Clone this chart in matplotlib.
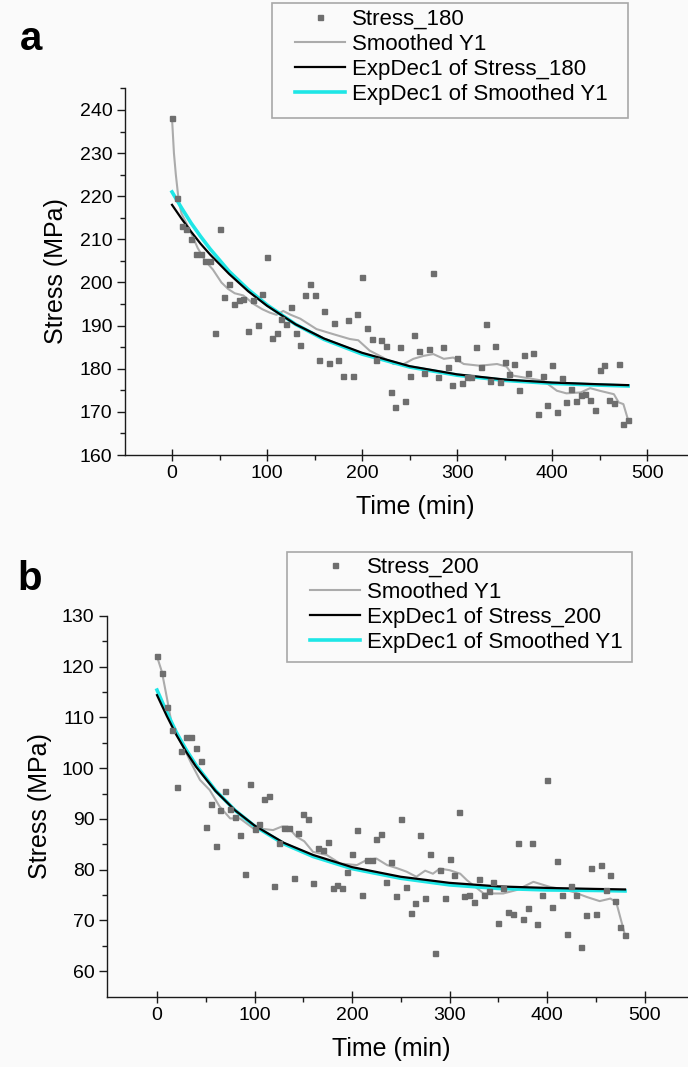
import numpy as np
import matplotlib.pyplot as plt
from matplotlib.patches import Rectangle
from matplotlib.lines import Line2D

plt.rcParams['font.family'] = ['Liberation Sans', 'DejaVu Sans']

# =========================
# DATA - panel a (180)
# =========================
time_a = [0, 5, 10, 15, 20, 25, 30, 35, 40, 45, 50, 55, 60, 65, 70, 75, 80, 85, 90, 95,
          100, 105, 110, 115, 120, 125, 130, 135, 140, 145, 150, 155, 160, 165, 170, 175,
          180, 185, 190, 195, 200, 205, 210, 215, 220, 225, 230, 235, 240, 245, 250, 255,
          260, 265, 270, 275, 280, 285, 290, 295, 300, 305, 310, 315, 320, 325, 330, 335,
          340, 345, 350, 355, 360, 365, 370, 375, 380, 385, 390, 395, 400, 405, 410, 415,
          420, 425, 430, 435, 440, 445, 450, 455, 460, 465, 470, 475, 480]
stress_180 = [238.1, 219.5, 213.0, 212.5, 210.0, 206.7, 206.7, 204.9, 204.9, 188.4, 212.5,
              196.7, 199.7, 194.9, 196.0, 196.2, 188.8, 196.0, 190.2, 197.4, 205.9, 187.1,
              188.4, 191.6, 190.4, 194.3, 188.4, 185.5, 197.2, 199.7, 197.2, 182.1, 193.3,
              181.3, 190.5, 182.0, 178.3, 191.3, 178.3, 192.7, 201.2, 189.4, 187.0, 182.0,
              186.7, 185.3, 174.5, 171.2, 185.1, 172.6, 178.3, 187.8, 184.2, 178.9, 184.5,
              202.2, 178.1, 185.0, 180.3, 176.3, 182.6, 176.8, 178.0, 178.0, 185.0, 180.5,
              190.3, 177.2, 185.2, 177.0, 181.5, 178.8, 181.0, 175.0, 183.3, 179.0, 183.6,
              169.5, 178.3, 171.6, 180.9, 169.9, 177.8, 172.4, 175.3, 172.6, 173.9, 174.1,
              172.8, 170.4, 179.8, 180.9, 172.8, 172.0, 181.2, 167.1, 168.1]

smooth_t_a = [0, 2, 4, 7, 10, 19, 27, 35, 43, 52, 59, 66, 75, 86, 95, 103, 110, 117, 125,
              135, 152, 170, 187, 196, 208, 222, 233, 244, 254, 265, 275, 286, 296, 307,
              324, 342, 352, 359, 375, 391, 405, 415, 430, 440, 450, 465, 470, 475, 480]
smooth_v_a = [238.0, 230.0, 225.0, 219.0, 216.0, 212.0, 208.0, 205.0, 203.0, 200.0, 198.5,
              197.5, 197.0, 195.0, 193.8, 193.0, 192.5, 193.4, 192.5, 191.6, 189.2, 188.0,
              186.9, 186.6, 184.2, 182.6, 181.1, 181.1, 182.3, 183.0, 183.4, 182.3, 182.6,
              181.1, 180.7, 181.1, 180.5, 178.4, 177.8, 177.2, 174.9, 174.3, 174.5, 175.5,
              174.9, 174.1, 172.2, 171.8, 168.1]

fit_t = [0, 10, 20, 30, 40, 60, 80, 100, 130, 160, 200, 250, 300, 350, 400, 450, 480]
fit_black_a = [218.0, 214.8, 211.8, 209.0, 206.5, 202.0, 198.0, 194.6, 190.3, 187.0, 183.7,
               180.6, 178.7, 177.5, 176.8, 176.4, 176.2]
fit_cyan_a = [221.0, 217.3, 213.8, 210.7, 207.8, 202.6, 198.4, 194.8, 190.3, 186.8, 183.4,
              180.4, 178.5, 177.3, 176.6, 176.2, 176.0]

# =========================
# DATA - panel b (200)
# =========================
time_b = time_a
stress_200 = [122.1, 118.8, 112.1, 107.5, 96.3, 103.4, 106.1, 106.2, 103.9, 101.5, 88.4,
              93.0, 84.7, 91.7, 95.5, 92.0, 90.4, 86.9, 79.2, 96.8, 88.1, 89.0, 94.0, 94.5,
              76.7, 85.2, 88.3, 88.3, 78.4, 87.3, 90.9, 89.9, 77.4, 84.2, 83.8, 85.5, 76.3,
              77.0, 76.3, 79.6, 83.1, 87.8, 75.1, 81.9, 81.9, 86.0, 87.0, 77.6, 81.5, 74.8,
              89.9, 76.5, 71.4, 73.5, 86.8, 74.5, 83.1, 63.5, 80.0, 74.4, 82.1, 78.9, 91.4,
              74.8, 75.0, 73.6, 78.1, 75.0, 75.8, 77.5, 69.4, 76.3, 71.7, 71.2, 85.2, 70.2,
              72.5, 85.2, 69.2, 75.0, 97.7, 72.7, 81.7, 75.0, 67.4, 76.8, 75.0, 64.8, 71.0,
              80.4, 71.2, 80.9, 76.0, 78.9, 73.8, 68.7, 67.1]

smooth_t_b = [0, 5, 10, 15, 27, 35, 44, 54, 64, 75, 85, 99, 110, 119, 128, 134, 143, 151,
              160, 174, 188, 205, 215, 225, 236, 246, 256, 266, 275, 283, 290, 300, 311,
              318, 335, 355, 369, 386, 403, 415, 427, 441, 454, 465, 471, 475, 480]
smooth_v_b = [122.0, 119.0, 114.0, 108.8, 104.2, 101.0, 97.7, 95.7, 92.5, 90.1, 90.1, 88.1,
              88.0, 87.8, 88.5, 88.5, 86.5, 85.6, 83.5, 82.9, 81.2, 80.9, 81.9, 82.2, 80.9,
              80.3, 79.6, 78.6, 79.8, 79.2, 80.2, 79.9, 79.2, 77.9, 75.3, 75.3, 76.0, 77.6,
              76.6, 76.2, 75.6, 74.6, 73.8, 74.3, 73.6, 70.7, 67.1]

fit_black_b = [114.4, 110.3, 106.5, 103.2, 100.3, 95.5, 91.7, 88.7, 85.3, 82.9, 80.5, 78.6,
               77.4, 76.7, 76.4, 76.2, 76.1]
fit_cyan_b = [115.4, 111.0, 107.0, 103.6, 100.6, 95.6, 91.7, 88.6, 85.1, 82.6, 80.2, 78.3,
              77.0, 76.3, 76.0, 75.9, 75.8]

# =========================
# STYLE
# =========================
bg = '#fafafa'
pt_color = '#6e6e6e'
smooth_color = '#ababab'
cyan = '#1ee6e6'

W, H = 688, 1067
fig = plt.figure(figsize=(W / 100, H / 100), dpi=100, facecolor=bg)


def px_box(left, top, right, bottom):
    # pixel box -> figure fraction
    return [left / W, 1 - bottom / H, (right - left) / W, (bottom - top) / H]


def draw_panel(box, t, pts, st, sv, fb, fc, xlim, ylim, yticks, yminor):
    ax = fig.add_axes(box, facecolor=bg)
    ax.plot(st, sv, color=smooth_color, lw=1.5, zorder=2)
    ax.plot(fit_t, fc, color=cyan, lw=2.6, zorder=3)
    ax.plot(fit_t, fb, color='black', lw=1.6, zorder=4)
    ax.plot(t, pts, ls='none', marker='s', ms=3.6, color=pt_color, zorder=5)

    ax.set_xlim(xlim)
    ax.set_ylim(ylim)
    ax.set_xticks([0, 100, 200, 300, 400, 500])
    ax.set_xticks(np.arange(50, 501, 100), minor=True)
    ax.set_yticks(yticks)
    ax.set_yticks(yminor, minor=True)

    for s in ['top', 'right']:
        ax.spines[s].set_visible(False)
    for s in ['left', 'bottom']:
        ax.spines[s].set_color('#1a1a1a')
        ax.spines[s].set_linewidth(1.0)
    ax.tick_params(which='major', direction='out', length=6, width=1,
                   labelsize=14, pad=3, color='#1a1a1a')
    ax.tick_params(axis='x', which='major', direction='inout', length=8)
    ax.tick_params(which='minor', direction='out', length=3.5, width=1, color='#1a1a1a')

    ax.set_xlabel('Time (min)', fontsize=18)
    ax.set_ylabel('Stress (MPa)', fontsize=18)
    ax.xaxis.label.set_va('center')
    ax.yaxis.label.set_va('center')
    return ax


# =========================
# PANEL A
# =========================
ax_a = draw_panel(px_box(125, 88, 688, 455), time_a, stress_180, smooth_t_a, smooth_v_a,
                  fit_black_a, fit_cyan_a, (-49.5, 543), (160, 245.1),
                  [160, 170, 180, 190, 200, 210, 220, 230, 240],
                  [165, 175, 185, 195, 205, 215, 225, 235, 245])
ax_a.xaxis.set_label_coords(0.515, -52 / 367)
ax_a.yaxis.set_label_coords((56 - 125) / 563, 0.5)

# =========================
# PANEL B
# =========================
ax_b = draw_panel(px_box(107, 616, 688, 997), time_b, stress_200, smooth_t_b, smooth_v_b,
                  fit_black_b, fit_cyan_b, (-51.3, 544.6), (54.9, 130),
                  [60, 70, 80, 90, 100, 110, 120, 130],
                  [65, 75, 85, 95, 105, 115, 125])
ax_b.xaxis.set_label_coords(0.49, -52 / 381)
ax_b.yaxis.set_label_coords((40 - 107) / 581, 0.5)

# panel letters
fig.text(20 / W, 1 - 50 / H, 'a', fontsize=29, fontweight='bold', va='baseline')
fig.text(17 / W, 1 - 590 / H, 'b', fontsize=29, fontweight='bold', va='baseline')


# =========================
# LEGENDS
# =========================
def legend_box(left, top, right, bottom, first_label, handle_x, row1_top):
    fig.patches.append(Rectangle((left / W, 1 - bottom / H), (right - left) / W,
                                 (bottom - top) / H, transform=fig.transFigure,
                                 facecolor=bg, edgecolor='#a8a8a8', lw=1.2, zorder=0))
    handles = [
        Line2D([], [], ls='none', marker='s', ms=3.6, color=pt_color),
        Line2D([], [], color=smooth_color, lw=1.5),
        Line2D([], [], color='black', lw=1.6),
        Line2D([], [], color=cyan, lw=2.6),
    ]
    labels = [first_label, 'Smoothed Y1', 'ExpDec1 of ' + first_label,
              'ExpDec1 of Smoothed Y1']
    fig.legend(handles, labels, loc='upper left',
               bbox_to_anchor=(handle_x / W, 1 - row1_top / H),
               bbox_transform=fig.transFigure, frameon=False, fontsize=16,
               borderpad=0, borderaxespad=0, handlelength=2.25,
               handletextpad=0.32, labelspacing=0.18)


legend_box(272, 3, 628, 118, 'Stress_180', 295, 9)
legend_box(287, 552, 632, 662, 'Stress_200', 310, 557)

fig.savefig('out.png', dpi=100, facecolor=bg)
